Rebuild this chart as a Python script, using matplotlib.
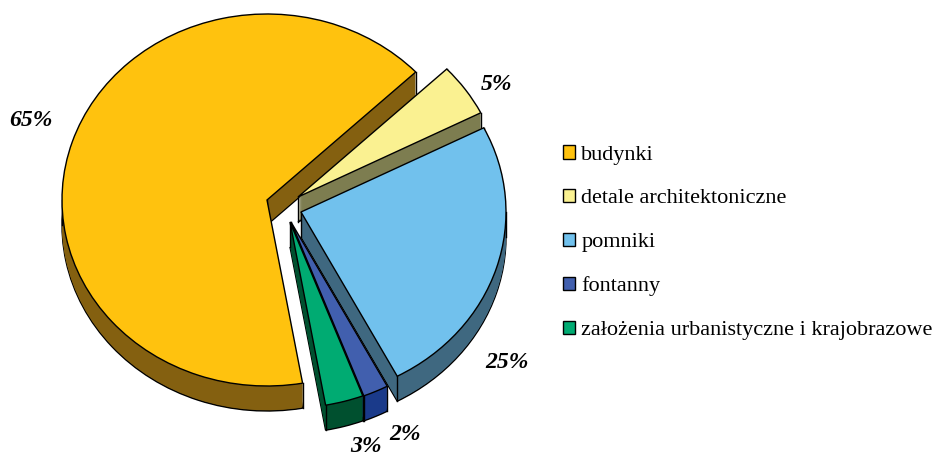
import matplotlib
matplotlib.use("Agg")
import matplotlib.pyplot as plt
from matplotlib.patches import Wedge, Patch
from matplotlib.transforms import Affine2D
import numpy as np

plt.rcParams['font.family'] = ['Liberation Serif', 'DejaVu Serif']

# dane
categories = ["budynki", "detale architektoniczne", "pomniki", "fontanny",
              "założenia urbanistyczne i krajobrazowe"]
values = [65.7, 4.6, 24.7, 2.0, 3.0]
labels = ["65%", "5%", "25%", "2%", "3%"]

# kolory
top_colors = ["#FFC20E", "#FAF191", "#71C1ED", "#415FAE", "#00AB72"]
side_colors = ["#846010", "#7D7D50", "#3F6880", "#1A3A8A", "#00502F"]

# geometria (piksele)
apex = [(267, 200), (298, 197), (301, 212), (291, 222), (290, 222)]
label_pos = [(31, 120), (496, 85), (507, 362), (405, 435), (366, 447)]
rx, ry = 205, 186
depth = 25
start = 280

fig = plt.figure(figsize=(9.34, 4.57), dpi=100)
ax = fig.add_axes([0, 0, 1, 1])
ax.set_xlim(0, 934)
ax.set_ylim(457, 0)
ax.axis("off")

spans = np.array(values) * 3.6
ends = start - np.cumsum(spans)
starts = ends + spans

for i in range(len(values)):
    cx, cy = apex[i]
    t1, t2 = ends[i], starts[i]

    # bok
    for d in range(depth, 0, -1):
        tr = Affine2D().scale(rx, -ry).translate(cx, cy + d) + ax.transData
        ec = "black" if d == depth else "none"
        lw = 1.0 if d == depth else 0
        w = Wedge((0, 0), 1, t1, t2, facecolor=side_colors[i], edgecolor=ec, linewidth=lw,
                  transform=tr, zorder=i * 3 + 1)
        ax.add_patch(w)

    # pionowe krawedzie
    angles = [t1, t2]
    for a in [0, 180, 360, -180]:
        if t1 < a < t2:
            angles.append(a)
    for a in angles:
        x = cx + rx * np.cos(np.radians(a))
        y = cy - ry * np.sin(np.radians(a))
        ax.plot([x, x], [y, y + depth], color="black", lw=1.0, zorder=i * 3 + 2)
    ax.plot([cx, cx], [cy, cy + depth], color="black", lw=1.0, zorder=i * 3 + 2)

    # wierzch
    tr = Affine2D().scale(rx, -ry).translate(cx, cy) + ax.transData
    ax.add_patch(Wedge((0, 0), 1, t1, t2, facecolor=top_colors[i], edgecolor="black",
                       linewidth=1.0, transform=tr, zorder=i * 3 + 3))

    ax.text(label_pos[i][0], label_pos[i][1], labels[i], fontsize=17, fontweight="bold",
            fontstyle="italic", ha="center", va="center", zorder=30)

handles = [Patch(facecolor=c, edgecolor="black", linewidth=1.0) for c in top_colors]
ax.legend(handles, categories, loc="upper left", bbox_to_anchor=(563, 145),
          bbox_transform=ax.transData,
          frameon=False, fontsize=16, handlelength=0.56, handleheight=0.56,
          handletextpad=0.27, labelspacing=1.09, borderpad=0, borderaxespad=0)

fig.savefig("out.png", dpi=100)
